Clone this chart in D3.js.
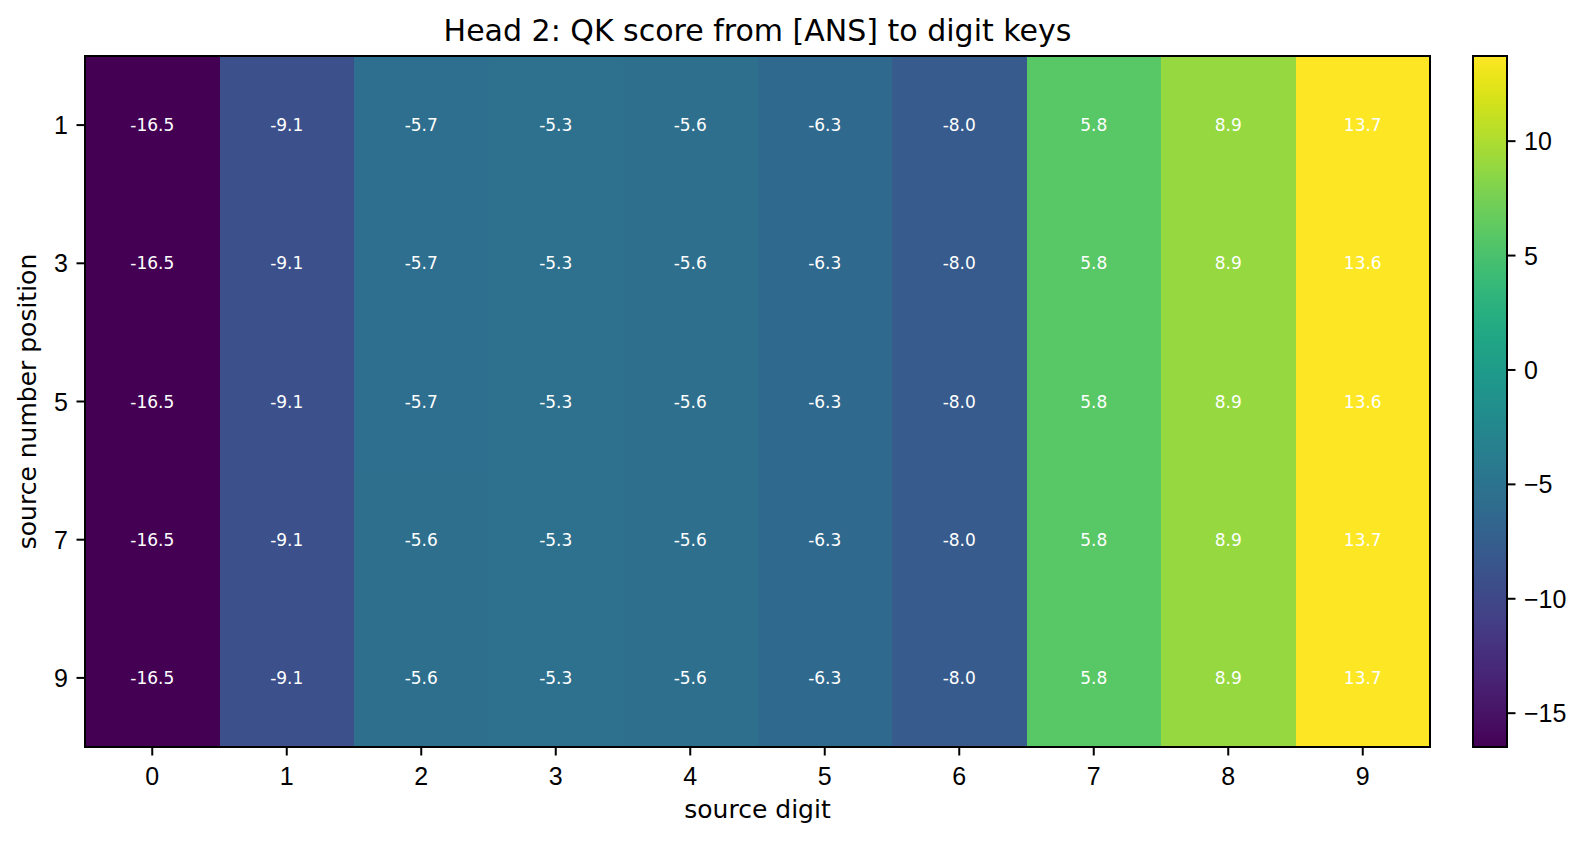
<!DOCTYPE html>
<html>
	<head>
		<script type="text/javascript" src="https://cdn.jsdelivr.net/npm/d3@7"></script>
		<style type="text/css">
			body {
				margin: 0;
				background: #fff;
			}
			svg {
				font-family: "DejaVu Sans", sans-serif;
			}
			.axis path {
				display: none;
			}
			.axis line {
				stroke: #000;
				stroke-width: 2;
			}
			.axis text {
				fill: #000;
				font-size: 25px;
			}
			.cell {
				shape-rendering: crispEdges;
			}
			.frame {
				fill: none;
				stroke: #000;
				stroke-width: 2;
			}
			.cellText {
				fill: #fff;
				font-size: 17px;
			}
		</style>
	</head>
<body>
	<script type="text/javascript">
		// source digits (columns) and source number positions (rows)
		var digits = ["0", "1", "2", "3", "4", "5", "6", "7", "8", "9"];
		var positions = ["1", "3", "5", "7", "9"];

		// QK scores, one array per row
		var row1 = [-16.5, -9.1, -5.7, -5.3, -5.6, -6.3, -8.0, 5.8, 8.9, 13.7];
		var row3 = [-16.5, -9.1, -5.7, -5.3, -5.6, -6.3, -8.0, 5.8, 8.9, 13.6];
		var row5 = [-16.5, -9.1, -5.7, -5.3, -5.6, -6.3, -8.0, 5.8, 8.9, 13.6];
		var row7 = [-16.5, -9.1, -5.6, -5.3, -5.6, -6.3, -8.0, 5.8, 8.9, 13.7];
		var row9 = [-16.5, -9.1, -5.6, -5.3, -5.6, -6.3, -8.0, 5.8, 8.9, 13.7];

		var colorbarTicks = [-15, -10, -5, 0, 5, 10];

		var rows = [row1, row3, row5, row7, row9];

		var w = 1595;
		var h = 841;
		// plot box (window.top is reserved, so m.* instead)
		var m = {left: 85, right: 1430, top: 56, bottom: 747};
		var cbLeft = 1473, cbWidth = 34;

		var cells = [];
		rows.forEach(function (r, j) {
			r.forEach(function (v, i) {
				cells.push({row: positions[j], col: digits[i], value: v});
			});
		});

		var extent = d3.extent(cells, function (d) { return d.value; });

		var x = d3.scaleBand()
			.domain(digits)
			.range([m.left, m.right]);
		var y = d3.scaleBand()
			.domain(positions)
			.range([m.top, m.bottom]);
		var color = d3.scaleSequential(d3.interpolateViridis)
			.domain(extent);
		var cbScale = d3.scaleLinear()
			.domain(extent)
			.range([m.bottom, m.top]);

		var svg = d3.select("body").append("svg")
			.attr("width", w)
			.attr("height", h);

		svg.selectAll("rect.cell")
			.data(cells)
		.enter().append("rect")
			.attr("class", "cell")
			.attr("x", function (d) { return x(d.col); })
			.attr("y", function (d) { return y(d.row); })
			.attr("width", x.bandwidth() + 1)
			.attr("height", y.bandwidth() + 1)
			.attr("fill", function (d) { return color(d.value); });

		svg.selectAll("text.cellText")
			.data(cells)
		.enter().append("text")
			.attr("class", "cellText")
			.attr("x", function (d) { return x(d.col) + x.bandwidth() / 2; })
			.attr("y", function (d) { return y(d.row) + y.bandwidth() / 2; })
			.attr("text-anchor", "middle")
			.attr("dy", "0.36em")
			.text(function (d) { return d.value.toFixed(1); });

		svg.append("rect")
			.attr("class", "frame")
			.attr("x", m.left)
			.attr("y", m.top)
			.attr("width", m.right - m.left)
			.attr("height", m.bottom - m.top);

		var xAxis = d3.axisBottom(x).tickSize(8.5).tickPadding(12);
		var yAxis = d3.axisLeft(y).tickSize(8.5).tickPadding(8.5);

		svg.append("g")
			.attr("class", "x axis")
			.attr("transform", "translate(0," + m.bottom + ")")
			.call(xAxis);

		svg.append("g")
			.attr("class", "y axis")
			.attr("transform", "translate(" + m.left + ",0)")
			.call(yAxis)
			.selectAll("text")
			.attr("dy", "0.36em");

		// colorbar
		var grad = svg.append("defs").append("linearGradient")
			.attr("id", "cbGrad")
			.attr("x1", 0).attr("y1", 1)
			.attr("x2", 0).attr("y2", 0);
		d3.range(0, 1.0001, 0.02).forEach(function (t) {
			grad.append("stop")
				.attr("offset", t)
				.attr("stop-color", d3.interpolateViridis(t));
		});

		svg.append("rect")
			.attr("x", cbLeft)
			.attr("y", m.top)
			.attr("width", cbWidth)
			.attr("height", m.bottom - m.top)
			.attr("fill", "url(#cbGrad)");
		svg.append("rect")
			.attr("class", "frame")
			.attr("x", cbLeft)
			.attr("y", m.top)
			.attr("width", cbWidth)
			.attr("height", m.bottom - m.top);

		svg.append("g")
			.attr("class", "c axis")
			.attr("transform", "translate(" + (cbLeft + cbWidth) + ",0)")
			.call(d3.axisRight(cbScale)
				.tickValues(colorbarTicks)
				.tickSize(8.5)
				.tickPadding(8.5)
				.tickFormat(function (d) { return d < 0 ? "\u2212" + Math.abs(d) : d; }))
			.selectAll("text")
			.attr("dy", "0.36em");

		// titles
		svg.append("text")
			.attr("x", (m.left + m.right) / 2)
			.attr("y", 41)
			.attr("text-anchor", "middle")
			.style("font-size", "30px")
			.text("Head 2: QK score from [ANS] to digit keys");

		svg.append("text")
			.attr("x", (m.left + m.right) / 2)
			.attr("y", 818)
			.attr("text-anchor", "middle")
			.style("font-size", "25px")
			.text("source digit");

		svg.append("text")
			.attr("transform", "translate(36," + ((m.top + m.bottom) / 2) + ") rotate(-90)")
			.attr("text-anchor", "middle")
			.style("font-size", "25px")
			.text("source number position");
	</script>
</body>
</html>
